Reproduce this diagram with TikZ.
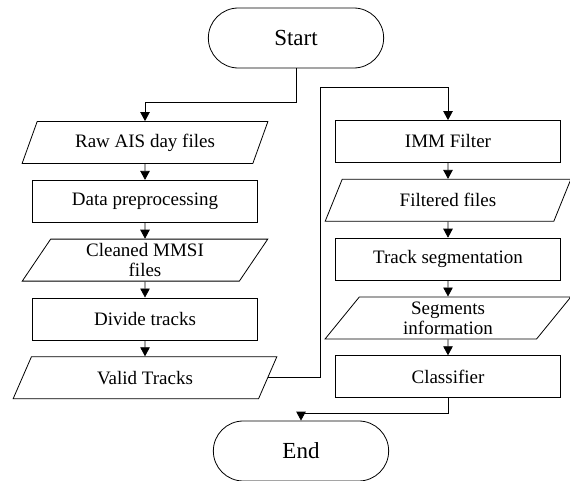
\documentclass[tikz,border=0pt]{standalone}
\usepackage{fontspec}
\setmainfont{Liberation Serif}
\usetikzlibrary{arrows.meta,positioning,shapes.geometric,shapes.misc}

\begin{document}
\begin{tikzpicture}[node distance=16pt,>={Triangle[length=9pt,width=9.5pt]},line width=.8pt]
  \tikzstyle{termbox}=[draw,rounded rectangle,minimum width=182pt,minimum height=60pt,font=\fontsize{23}{26}\selectfont]
  \tikzstyle{procbox}=[draw,rectangle,minimum width=225pt,minimum height=42pt,inner sep=1pt,align=center,font=\fontsize{19}{20}\selectfont]
  \tikzstyle{iobox}=[procbox,trapezium,trapezium left angle=63,trapezium right angle=117,trapezium stretches=true,minimum width=246pt]
  \useasboundingbox (0,0) rectangle (570pt,-481pt);
  \node[termbox] (start) at (296pt,-38pt) {Start};
  % left column
  \node[iobox] (raw) at (145pt,-142.5pt) {Raw AIS day files};
  \node[procbox,below=of raw] (prep) {Data preprocessing};
  \node[iobox,below=of prep] (clean) {Cleaned MMSI\\files};
  \node[procbox,below=of clean] (divide) {Divide tracks};
  \node[iobox,below=of divide,minimum width=264pt] (valid) {Valid Tracks};
  % right column
  \node[procbox] (imm) at (448pt,-141.5pt) {IMM Filter};
  \node[iobox,below=of imm] (filt) {Filtered files};
  \node[procbox,below=of filt] (seg) {Track segmentation};
  \node[iobox,below=of seg] (info) {Segments\\information};
  \node[procbox,below=of info] (cls) {Classifier};
  \node[termbox] (end) at (301pt,-451pt) {End};
  \foreach \a/\b in {raw/prep,prep/clean,clean/divide,divide/valid,imm/filt,filt/seg,seg/info,info/cls}{\draw[->] (\a) -- (\b);}
  \draw[->] (start.south) -- ++(0,-34pt) -| (raw.north);
  \draw[->] (valid.east) -- ++(52pt,0) |- ([yshift=33pt]imm.north) -- (imm.north);
  \draw[->] (cls.south) -- ++(0,-15pt) -| (end.north);
\end{tikzpicture}
\end{document}
